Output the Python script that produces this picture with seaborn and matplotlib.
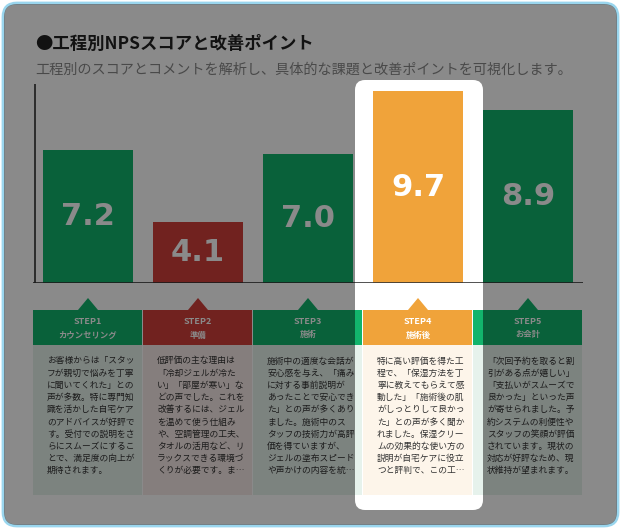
import matplotlib.pyplot as plt
import seaborn as sns
import pandas as pd
import numpy as np
from matplotlib.patches import FancyBboxPatch, Rectangle, Polygon, PathPatch
from matplotlib.path import Path

plt.rcParams['font.family'] = 'Noto Sans CJK JP'

steps = ["STEP1", "STEP2", "STEP3", "STEP4", "STEP5"]
step_names = ["カウンセリング", "準備", "施術", "施術後", "お会計"]
scores = [7.2, 4.1, 7.0, 9.7, 8.9]
comments = [
    ["お客様からは「スタッ", "フが親切で悩みを丁寧", "に聞いてくれた」との", "声が多数。特に専門知",
     "識を活かした自宅ケア", "のアドバイスが好評で", "す。受付での説明をさ", "らにスムーズにするこ",
     "とで、満足度の向上が", "期待されます。"],
    ["低評価の主な理由は", "「冷却ジェルが冷た", "い」「部屋が寒い」な", "どの声でした。これを",
     "改善するには、ジェル", "を温めて使う仕組み", "や、空調管理の工夫、", "タオルの活用など、リ",
     "ラックスできる環境づ", "くりが必要です。ま…"],
    ["施術中の適度な会話が", "安心感を与え、「痛み", "に対する事前説明が", "あったことで安心でき",
     "た」との声が多くあり", "ました。施術中のス", "タッフの技術力が高評", "価を得ていますが、",
     "ジェルの塗布スピード", "や声かけの内容を統…"],
    ["特に高い評価を得た工", "程で、「保湿方法を丁", "寧に教えてもらえて感", "動した」「施術後の肌",
     "がしっとりして良かっ", "た」との声が多く聞か", "れました。保湿クリー", "ムの効果的な使い方の",
     "説明が自宅ケアに役立", "つと評判で、この工…"],
    ["「次回予約を取ると割", "引がある点が嬉しい」", "「支払いがスムーズで", "良かった」といった声",
     "が寄せられました。予", "約システムの利便性や", "スタッフの笑顔が評価", "されています。現状の",
     "対応が好評なため、現", "状維持が望まれます。"],
]

GREEN, RED, ORANGE = "#12b46c", "#d23f3a", "#f0a33a"
colors = [GREEN, RED, GREEN, ORANGE, GREEN]
box_bg = ["#e6f2ec", "#f7e9e7", "#e6f2ec", "#fdf5ea", "#e6f2ec"]

W, H = 621, 529
fig = plt.figure(figsize=(W / 100, H / 100), dpi=100)
fig.patch.set_facecolor("white")

# pixel-space canvas
pa = fig.add_axes([0, 0, 1, 1])
pa.set_xlim(0, W)
pa.set_ylim(H, 0)
pa.axis("off")
pa.add_patch(FancyBboxPatch((3, 3), W - 6, H - 6, boxstyle="round,pad=0,rounding_size=14",
                            fc="white", ec="#9ad6ee", lw=2, zorder=0))

pa.text(35, 44, "●工程別NPSスコアと改善ポイント", fontsize=12.5, fontweight="bold", va="center", color="#222")
pa.text(35, 70, "工程別のスコアとコメントを解析し、具体的な課題と改善ポイントを可視化します。",
        fontsize=10.2, va="center", color="#888")

# bar chart
df = pd.DataFrame({"step": steps, "score": scores})
bx = fig.add_axes([33 / W, (H - 283) / H, 550 / W, (283 - 84) / H])
sns.barplot(data=df, x="step", y="score", hue="step", palette=colors, width=90 / 110,
            saturation=1, legend=False, ax=bx)
bx.set_ylim(1.5, 10)
bx.set_xlim(-0.5, 4.5)
bx.set_axis_off()
bx.axvline(-0.48, color="#333", lw=1.2)
bx.axhline(1.5, color="#333", lw=1.2)
for i, s in enumerate(scores):
    bx.text(i, (s + 1.5) / 2, f"{s}", ha="center", va="center", color="white", fontsize=22,
            fontweight="bold", family="DejaVu Sans")
bx.patch.set_alpha(0)

# step headers and comment boxes
for i in range(5):
    x0 = 33 + i * 110
    cx = x0 + 55
    pa.add_patch(Rectangle((x0, 310), 109, 35, fc=colors[i], ec="none", zorder=2))
    pa.add_patch(Polygon([[cx - 10, 310], [cx, 298], [cx + 10, 310]], fc=colors[i], ec="none", zorder=2))
    pa.text(cx, 322, steps[i], ha="center", va="center", color="white", fontsize=6.5, fontweight="bold", zorder=3)
    pa.text(cx, 335, step_names[i], ha="center", va="center", color="white", fontsize=6, fontweight="bold", zorder=3)
    pa.add_patch(Rectangle((x0, 345), 109, 150, fc=box_bg[i], ec="none", zorder=2))
    for j, line in enumerate(comments[i]):
        pa.text(x0 + 14, 361 + j * 12.2, line, ha="left", va="center", fontsize=6.3, color="#333", zorder=3)

# dim overlay with spotlight hole, in its own top axes
ov = fig.add_axes([0, 0, 1, 1])
ov.set_xlim(0, W)
ov.set_ylim(H, 0)
ov.axis("off")
ov.patch.set_alpha(0)
outer = FancyBboxPatch((4, 4), W - 8, H - 8, boxstyle="round,pad=0,rounding_size=13").get_path().to_polygons()[0]
hole = FancyBboxPatch((355, 80), 128, 430, boxstyle="round,pad=0,rounding_size=10").get_path().to_polygons()[0]
hole = hole[::-1]
verts = np.vstack([outer, hole])
codes = ([Path.MOVETO] + [Path.LINETO] * (len(outer) - 1)
         + [Path.MOVETO] + [Path.LINETO] * (len(hole) - 1))
ov.add_patch(PathPatch(Path(verts, codes), fc="black", alpha=0.46, ec="none"))

fig.savefig("out.png", dpi=100)
